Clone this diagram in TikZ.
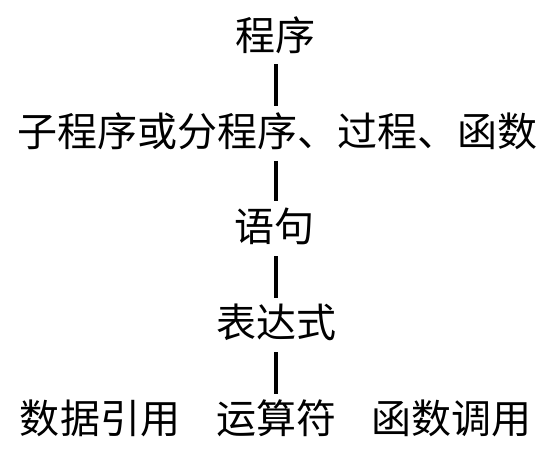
\documentclass[tikz,border=0pt]{standalone}
\usepackage{fontspec}
\setmainfont{Noto Sans CJK SC}
\begin{document}
\begin{tikzpicture}[x=1bp,y=-1bp,
  lbl/.style={inner sep=0pt,outer sep=0pt,font=\fontsize{40bp}{40bp}\selectfont,
    text height=35.2bp,text depth=4.8bp,anchor=center},
  conn/.style={line width=4bp,shorten <=9.5bp,shorten >=5bp}]
\useasboundingbox (0,0) rectangle (544,449);
\node[lbl] (prog) at (275.5,35) {程序};
\node[lbl] (sub)  at (277.5,131.5) {子程序或分程序、过程、函数};
\node[lbl] (stmt) at (274,226.5) {语句};
\node[lbl] (expr) at (276,322.5) {表达式};
\node[lbl] (data) at (100,418.5) {数据引用};
\node[lbl] (op)   at (276,418.5) {运算符};
\node[lbl] (call) at (451.5,418.5) {函数调用};
\coordinate (lx) at (275.5,0);
\draw[conn] (prog.south -| lx) -- (sub.north -| lx);
\draw[conn] (sub.south -| lx) -- (stmt.north -| lx);
\draw[conn] (stmt.south -| lx) -- (expr.north -| lx);
\draw[conn] (expr.south -| lx) -- (op.north -| lx);
\end{tikzpicture}
\end{document}
